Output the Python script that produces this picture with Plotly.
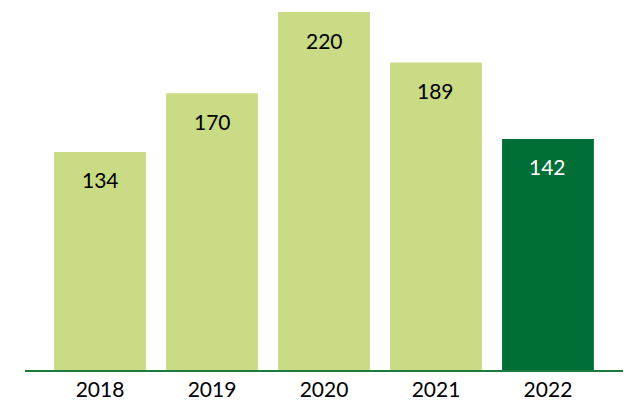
import plotly.graph_objects as go

years = ["2018", "2019", "2020", "2021", "2022"]
values = [134, 170, 220, 189, 142]
bar_colors = ["#C9DB85", "#C9DB85", "#C9DB85", "#C9DB85", "#006E37"]
label_colors = ["#000000", "#000000", "#000000", "#000000", "#FFFFFF"]

fig = go.Figure()
fig.add_trace(go.Bar(
    x=years, y=values, width=0.82,
    marker=dict(color=bar_colors, line=dict(width=0)),
    hoverinfo="skip",
))
annots = []
for i, (v, c) in enumerate(zip(values, label_colors)):
    annots.append(dict(x=i, y=v, xref="x", yref="y", text=str(v), showarrow=False,
                       xanchor="center", yanchor="middle", yshift=-28,
                       font=dict(family="Lato", size=21, color=c)))

fig.update_layout(
    width=643, height=414,
    margin=dict(l=17, r=28, t=4, b=52),
    paper_bgcolor="white", plot_bgcolor="white",
    showlegend=False,
    annotations=annots,
    xaxis=dict(type="category", range=[-0.67, 4.67], showline=True,
               linecolor="#1E7B3E", linewidth=2, showgrid=False,
               ticks="", tickfont=dict(family="Lato", size=21, color="#000000"),
               fixedrange=True),
    yaxis=dict(range=[0, 220], visible=False, showgrid=False, zeroline=False,
               fixedrange=True),
)
fig.write_html("out.html")
